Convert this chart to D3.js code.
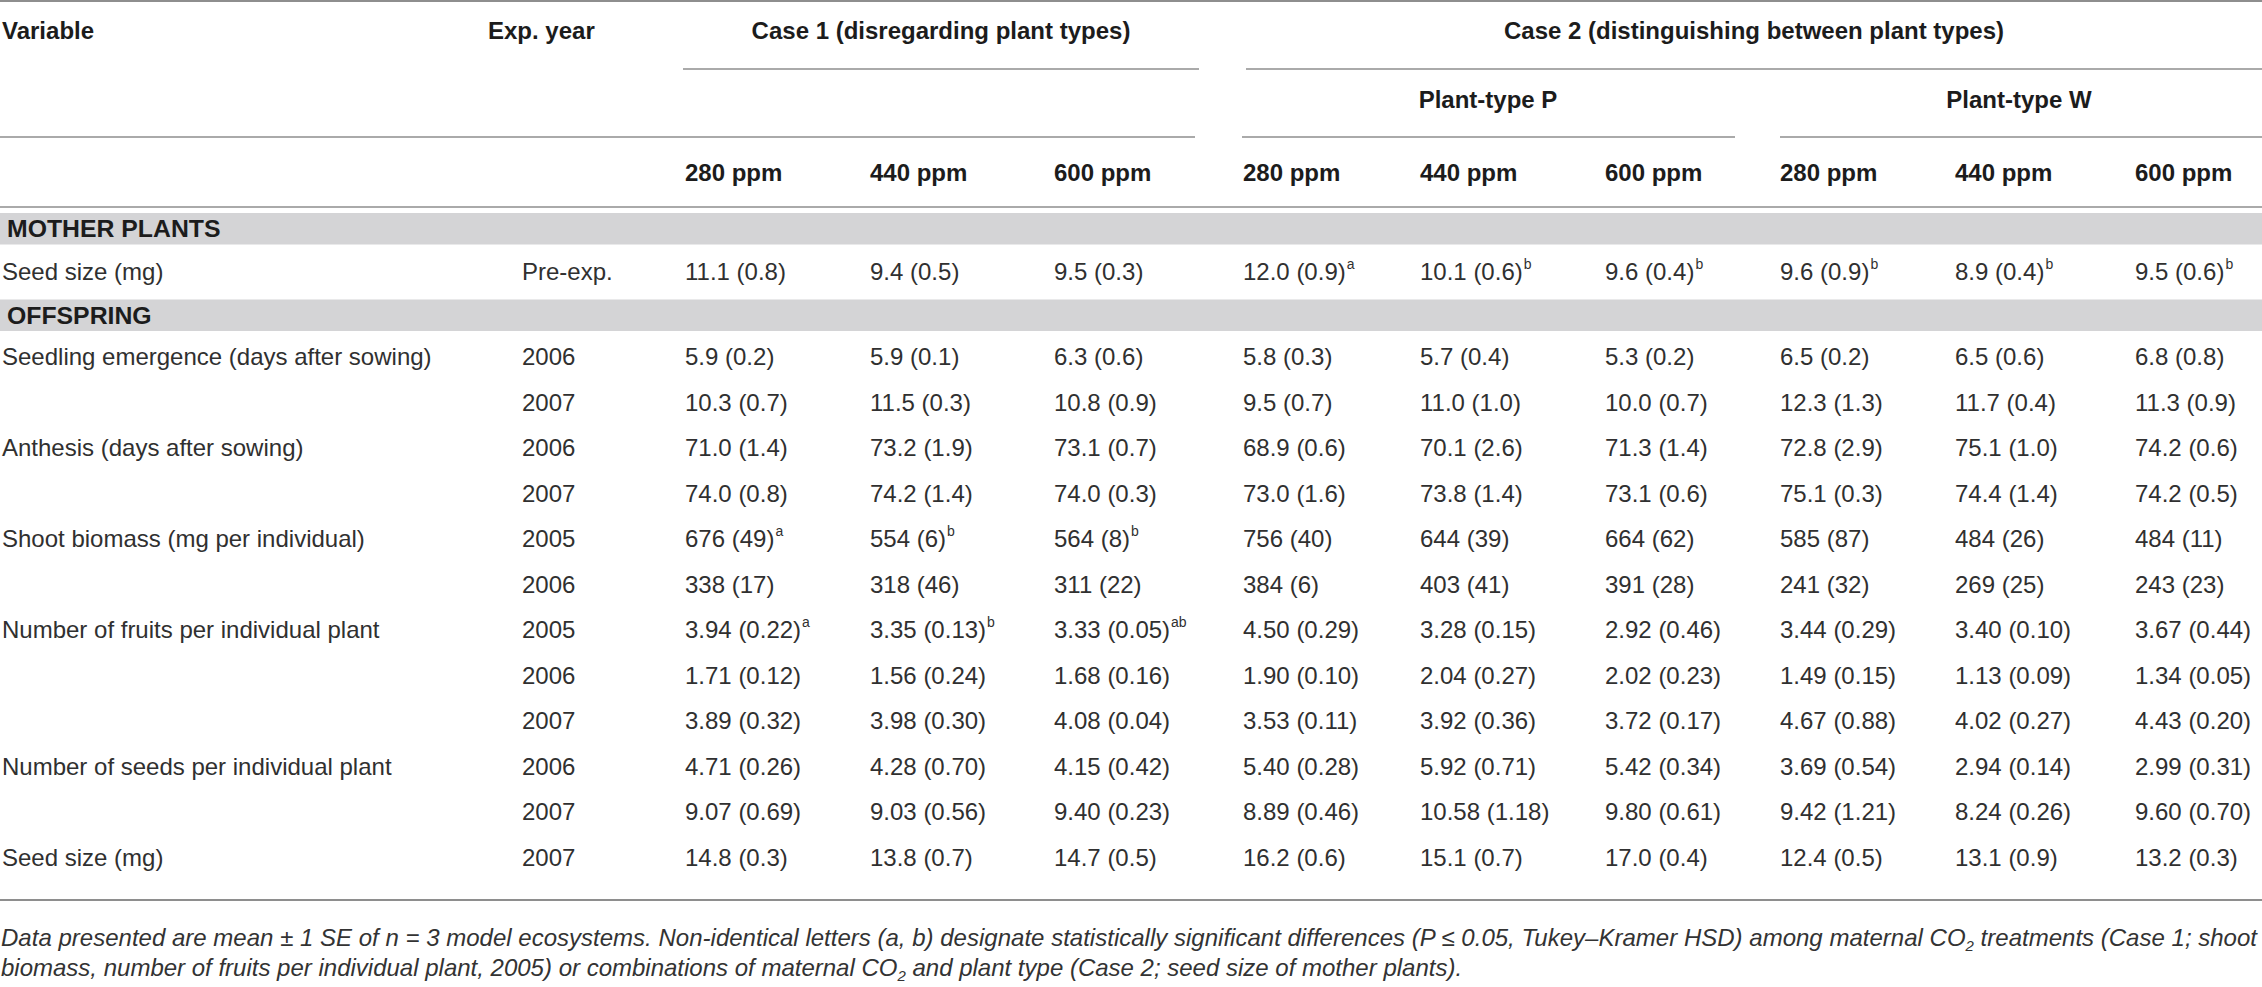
<!DOCTYPE html>
<html>
<head>
<meta charset="utf-8">
<script src="https://cdn.jsdelivr.net/npm/d3@7"></script>
<style>
  body { margin: 0; background: #fff; }
  svg { display: block; font-family: "Liberation Sans", Arial, Helvetica, sans-serif; }
</style>
</head>
<body>
<svg id="table"></svg>
<script>
const ppmLabels = ['280 ppm', '440 ppm', '600 ppm'];
const groupLabels = ['Case 1 (disregarding plant types)', 'Case 2 (distinguishing between plant types)'];
const plantTypes = ['Plant-type P', 'Plant-type W'];
const sections = ['MOTHER PLANTS', 'OFFSPRING'];

const variables = [
  'Seed size (mg)',
  'Seedling emergence (days after sowing)', '',
  'Anthesis (days after sowing)', '',
  'Shoot biomass (mg per individual)', '',
  'Number of fruits per individual plant', '', '',
  'Number of seeds per individual plant', '',
  'Seed size (mg)'
];
const expYears = ['Pre-exp.', '2006', '2007', '2006', '2007', '2005', '2006', '2005', '2006', '2007', '2006', '2007', '2007'];

// mean (SE) per row: Case 1 x3, plant-type P x3, plant-type W x3
const means = [
  ['11.1', '9.4', '9.5', '12.0', '10.1', '9.6', '9.6', '8.9', '9.5'],
  ['5.9', '5.9', '6.3', '5.8', '5.7', '5.3', '6.5', '6.5', '6.8'],
  ['10.3', '11.5', '10.8', '9.5', '11.0', '10.0', '12.3', '11.7', '11.3'],
  ['71.0', '73.2', '73.1', '68.9', '70.1', '71.3', '72.8', '75.1', '74.2'],
  ['74.0', '74.2', '74.0', '73.0', '73.8', '73.1', '75.1', '74.4', '74.2'],
  ['676', '554', '564', '756', '644', '664', '585', '484', '484'],
  ['338', '318', '311', '384', '403', '391', '241', '269', '243'],
  ['3.94', '3.35', '3.33', '4.50', '3.28', '2.92', '3.44', '3.40', '3.67'],
  ['1.71', '1.56', '1.68', '1.90', '2.04', '2.02', '1.49', '1.13', '1.34'],
  ['3.89', '3.98', '4.08', '3.53', '3.92', '3.72', '4.67', '4.02', '4.43'],
  ['4.71', '4.28', '4.15', '5.40', '5.92', '5.42', '3.69', '2.94', '2.99'],
  ['9.07', '9.03', '9.40', '8.89', '10.58', '9.80', '9.42', '8.24', '9.60'],
  ['14.8', '13.8', '14.7', '16.2', '15.1', '17.0', '12.4', '13.1', '13.2']
];
const ses = [
  ['0.8', '0.5', '0.3', '0.9', '0.6', '0.4', '0.9', '0.4', '0.6'],
  ['0.2', '0.1', '0.6', '0.3', '0.4', '0.2', '0.2', '0.6', '0.8'],
  ['0.7', '0.3', '0.9', '0.7', '1.0', '0.7', '1.3', '0.4', '0.9'],
  ['1.4', '1.9', '0.7', '0.6', '2.6', '1.4', '2.9', '1.0', '0.6'],
  ['0.8', '1.4', '0.3', '1.6', '1.4', '0.6', '0.3', '1.4', '0.5'],
  ['49', '6', '8', '40', '39', '62', '87', '26', '11'],
  ['17', '46', '22', '6', '41', '28', '32', '25', '23'],
  ['0.22', '0.13', '0.05', '0.29', '0.15', '0.46', '0.29', '0.10', '0.44'],
  ['0.12', '0.24', '0.16', '0.10', '0.27', '0.23', '0.15', '0.09', '0.05'],
  ['0.32', '0.30', '0.04', '0.11', '0.36', '0.17', '0.88', '0.27', '0.20'],
  ['0.26', '0.70', '0.42', '0.28', '0.71', '0.34', '0.54', '0.14', '0.31'],
  ['0.69', '0.56', '0.23', '0.46', '1.18', '0.61', '1.21', '0.26', '0.70'],
  ['0.3', '0.7', '0.5', '0.6', '0.7', '0.4', '0.5', '0.9', '0.3']
];
// significance letters (only rows 0, 5 and 7 carry them)
const letters = [
  ['', '', '', 'a', 'b', 'b', 'b', 'b', 'b'],
  [], [], [], [],
  ['a', 'b', 'b'],
  [],
  ['a', 'b', 'ab'],
  [], [], [], [], []
];

// ---- layout ----
const W = 2262, H = 987;
const lineColor = '#8e8e8e', bandColor = '#d4d4d6', ink = '#303030', headInk = '#1c1c1c';

const svg = d3.select('#table').attr('width', W).attr('height', H).attr('viewBox', `0 0 ${W} ${H}`);

const colKeys = d3.range(9);
const x = d3.scaleOrdinal(colKeys, [685, 870, 1054, 1243, 1420, 1605, 1780, 1955, 2135]);

// slots: 0 = MOTHER PLANTS band, 1 = row 0, 2 = OFFSPRING band, 3.. = rows 1..12
const y = d3.scaleLinear().domain([0, 1, 2, 3, 14]).range([228.5, 272, 315, 357, 857.5]);
const rowSlot = i => (i === 0 ? 1 : i + 2);

function hline(y0, x0, x1, w = 1.4) {
  svg.append('line').attr('x1', x0).attr('x2', x1).attr('y1', y0).attr('y2', y0)
    .attr('stroke', lineColor).attr('stroke-width', w);
}

// rules of the header
hline(1, 0, W, 2.2);
hline(69, 683, 1199);
hline(69, 1246, W);
hline(137, 0, 1195);
hline(137, 1242, 1735);
hline(137, 1780, W);
hline(207, 0, W, 1.6);
hline(900, 0, W, 2.2);

const head = svg.append('g').attr('font-weight', 'bold').attr('font-size', 24).attr('fill', headInk);
head.append('text').attr('x', 2).attr('y', 31).attr('dy', '0.35em').text('Variable');
head.append('text').attr('x', 488).attr('y', 31).attr('dy', '0.35em').text('Exp. year');
head.selectAll('text.grp').data(groupLabels).join('text').attr('class', 'grp')
  .attr('x', (d, i) => [941, 1754][i]).attr('y', 31).attr('dy', '0.35em')
  .attr('text-anchor', 'middle').text(d => d);
head.selectAll('text.pt').data(plantTypes).join('text').attr('class', 'pt')
  .attr('x', (d, i) => [1488, 2019][i]).attr('y', 100).attr('dy', '0.35em')
  .attr('text-anchor', 'middle').text(d => d);
head.selectAll('text.ppm').data(colKeys).join('text').attr('class', 'ppm')
  .attr('x', d => x(d)).attr('y', 173).attr('dy', '0.35em')
  .text(d => ppmLabels[d % 3]);

// section bands
const band = svg.selectAll('g.band').data(sections).join('g').attr('class', 'band');
band.append('rect').attr('x', 0).attr('width', W)
  .attr('y', (d, i) => y(i * 2) - 15.5).attr('height', 31.5).attr('fill', bandColor);
band.append('text').attr('x', 7).attr('y', (d, i) => y(i * 2)).attr('dy', '0.35em')
  .attr('font-weight', 'bold').attr('font-size', 24.8).attr('fill', headInk).text(d => d);

// body rows
const rows = svg.selectAll('g.row').data(means).join('g').attr('class', 'row')
  .attr('transform', (d, i) => `translate(0,${y(rowSlot(i))})`)
  .attr('font-size', 24).attr('fill', ink);
rows.append('text').attr('x', 2).attr('dy', '0.35em').text((d, i) => variables[i]);
rows.append('text').attr('x', 522).attr('dy', '0.35em').text((d, i) => expYears[i]);

rows.each(function (row, i) {
  const cellData = row.map((m, j) => ({ j, m, se: ses[i][j], sig: letters[i][j] || '' }));
  const cells = d3.select(this).selectAll('text.cell').data(cellData).join('text').attr('class', 'cell')
    .attr('x', d => x(d.j)).attr('dy', '0.35em');
  cells.append('tspan').text(d => `${d.m} (${d.se})`);
  cells.filter(d => d.sig).append('tspan')
    .attr('font-size', 14).attr('dy', '-0.8em').attr('dx', 1)
    .text(d => d.sig);
});

// footnote
const note = svg.append('g').attr('font-size', 24).attr('font-style', 'italic').attr('fill', '#333');
const l1 = note.append('text').attr('x', 1).attr('y', 946).attr('textLength', 2256).attr('lengthAdjust', 'spacing');
l1.append('tspan').text('Data presented are mean ± 1 SE of ');
l1.append('tspan').text('n');
l1.append('tspan').text(' = 3 model ecosystems. Non-identical letters (a, b) designate statistically significant differences (');
l1.append('tspan').text('P');
l1.append('tspan').text(' ≤ 0.05, Tukey–Kramer HSD) among maternal CO');
l1.append('tspan').attr('font-size', 15).attr('dy', 5).text('2');
l1.append('tspan').attr('dy', -5).text(' treatments (Case 1; shoot');

const l2 = note.append('text').attr('x', 1).attr('y', 976);
l2.append('tspan').text('biomass, number of fruits per individual plant, 2005) or combinations of maternal CO');
l2.append('tspan').attr('font-size', 15).attr('dy', 5).text('2');
l2.append('tspan').attr('dy', -5).text(' and plant type (Case 2; seed size of mother plants).');
</script>
</body>
</html>
